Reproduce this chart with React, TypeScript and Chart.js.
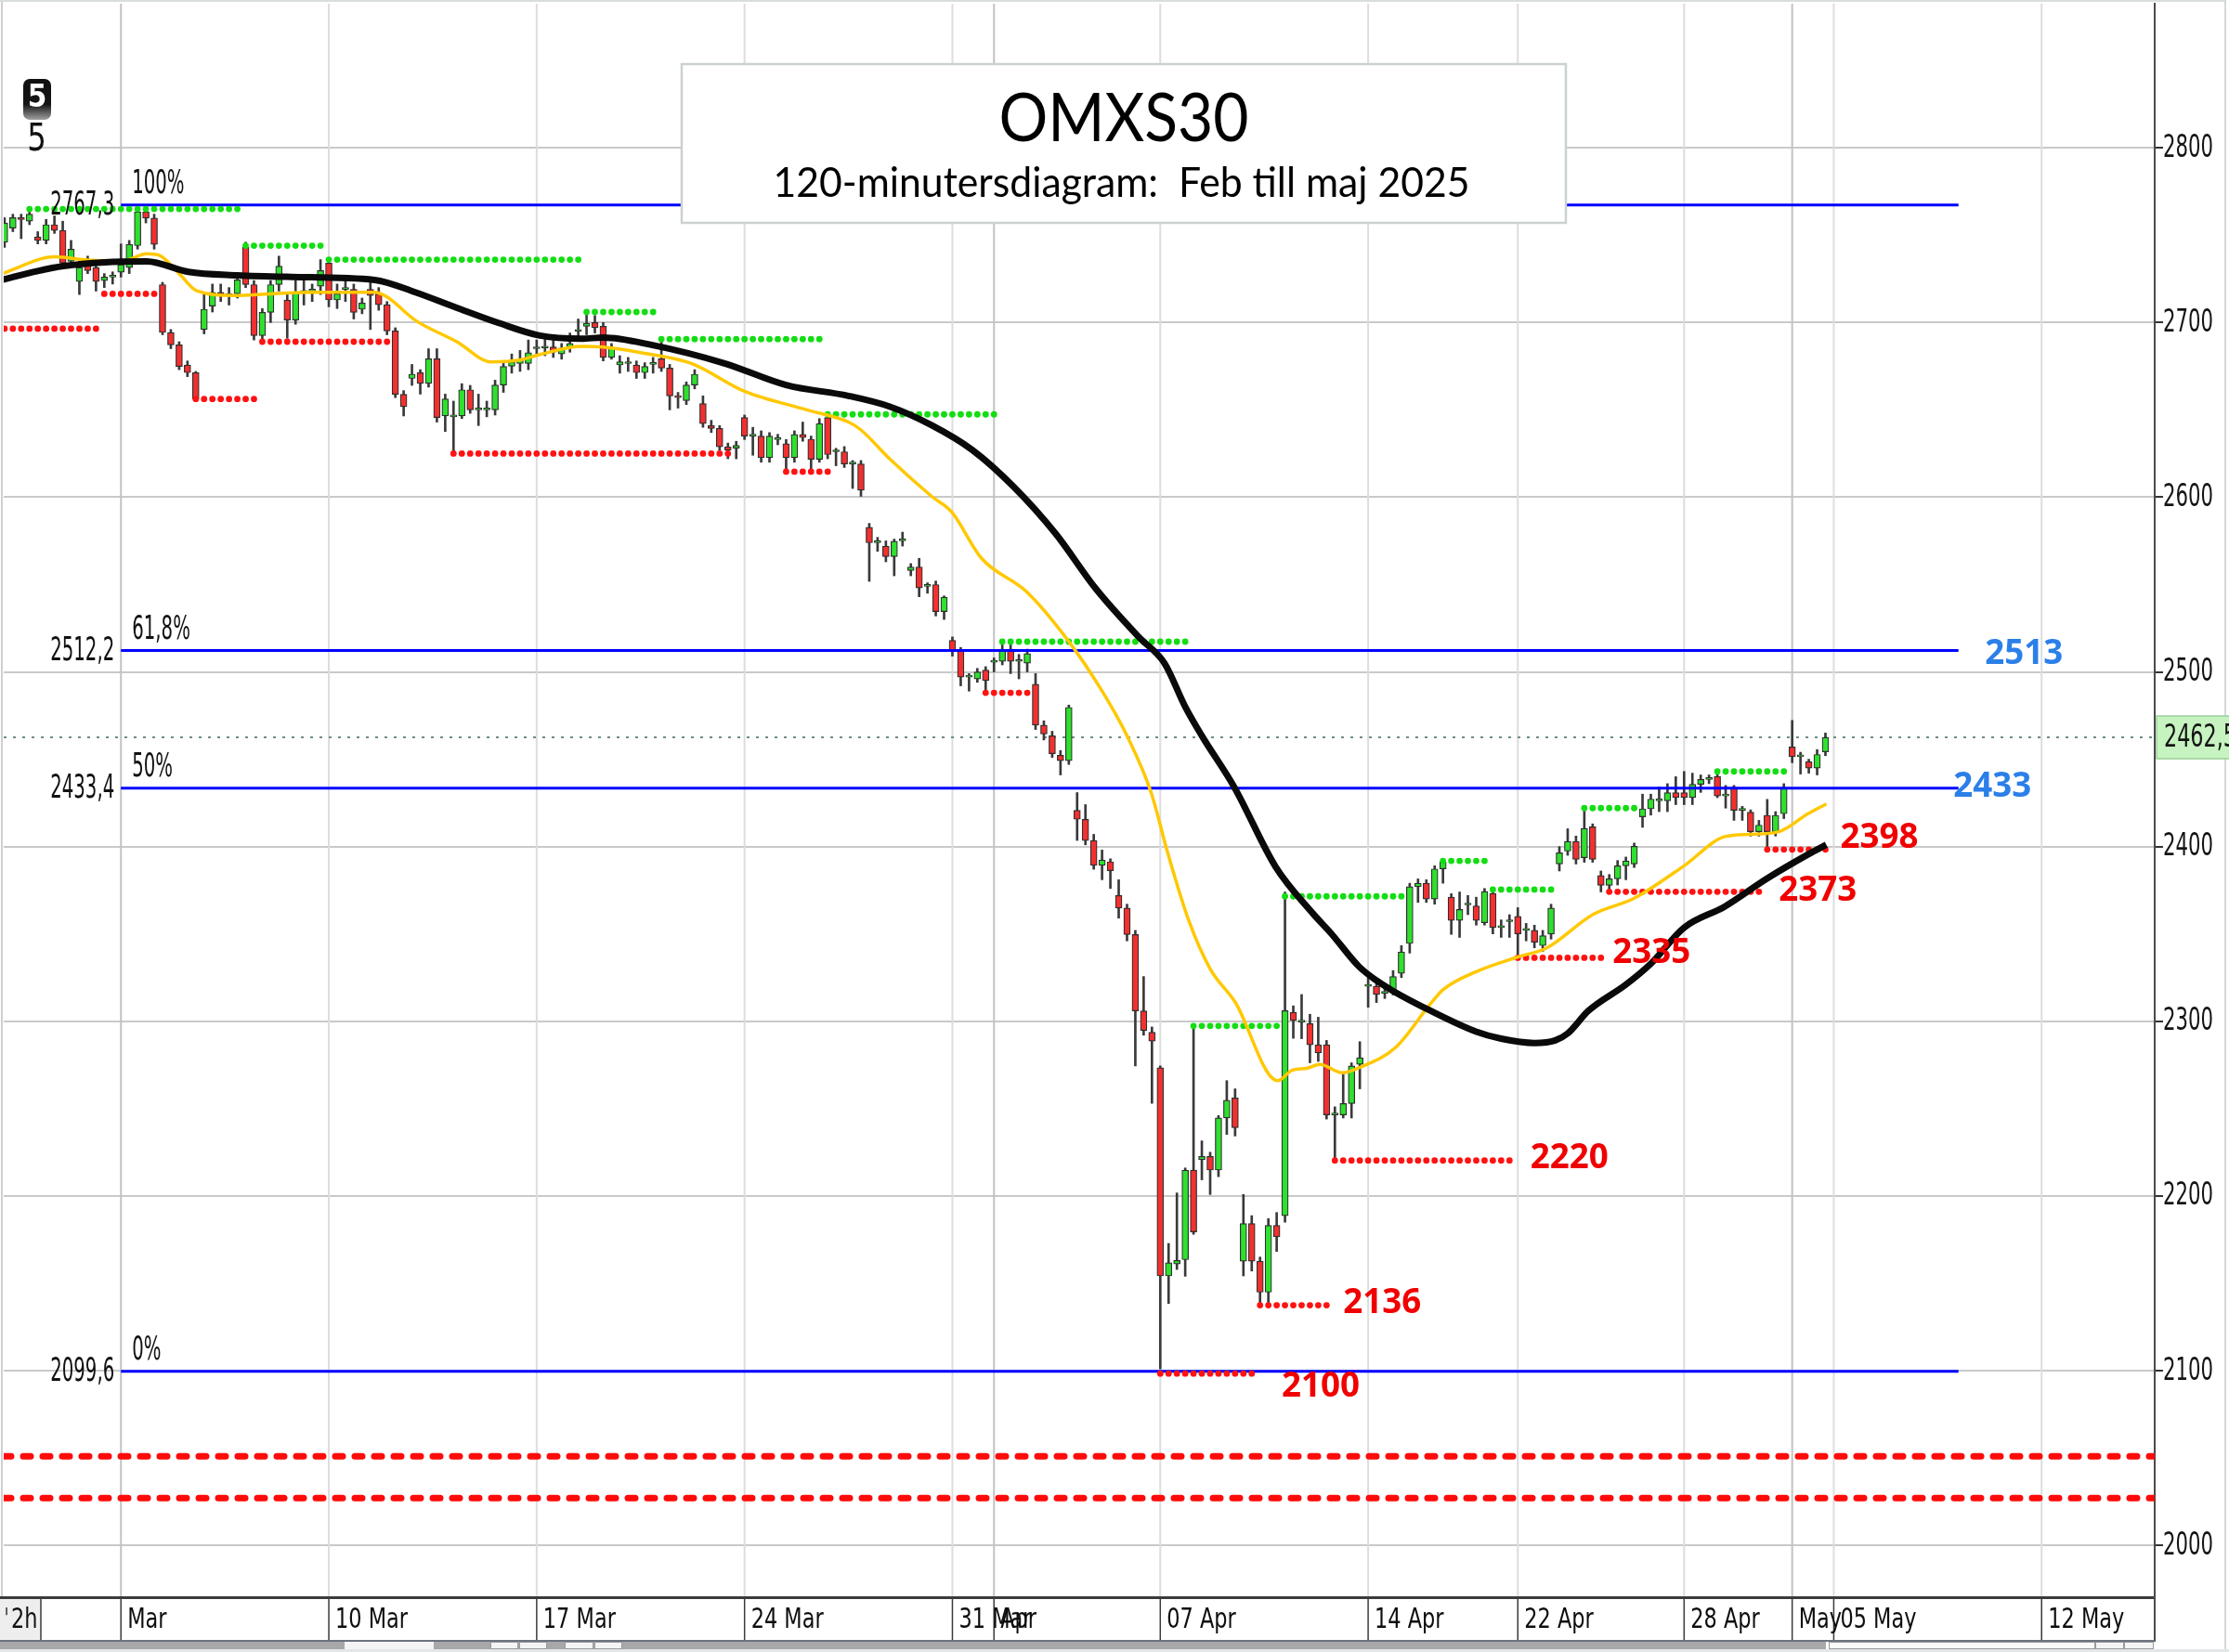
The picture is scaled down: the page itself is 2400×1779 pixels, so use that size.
import React, { useEffect, useRef } from "react";
import { Chart, registerables } from "chart.js";

Chart.register(...registerables);

// ---------------- DATA ----------------
// 120-minute bars, index 0 = first bar of 3 Mar 2025 (5 bars per full trading day)
const FIRST_BAR = -14;

const opens = [
  2746, 2754, 2760, 2758, 2749, 2747, 2756, 2752.7, 2735, 2723.5,
  2734, 2731.5, 2724, 2726, 2728.8, 2731.5, 2744, 2763.3, 2759.8, 2721.7,
  2694.3, 2687.2, 2675.7, 2671.3, 2696, 2709.4, 2717.3, 2715.5, 2716.4, 2743,
  2721.7, 2692.5, 2705.8, 2721.7, 2712.9, 2701.4, 2717.3, 2718, 2720.8, 2734,
  2712.9, 2719, 2719, 2707.6, 2719, 2716.4, 2710.2, 2695.2, 2658.9, 2668,
  2671.3, 2665.1, 2679.2, 2646.5, 2646, 2646.5, 2661.5, 2650, 2650, 2650,
  2664.2, 2675, 2676.5, 2676.6, 2685, 2685.4, 2686, 2682, 2686, 2695,
  2697.8, 2700, 2697.8, 2680, 2675.7, 2676.5, 2675.7, 2671.3, 2676, 2679.2,
  2673.9, 2658, 2655.3, 2664.2, 2653.6, 2641, 2639.4, 2628.8, 2628, 2645.6,
  2635, 2635, 2622.6, 2633, 2630.6, 2622.6, 2635.9, 2633.2, 2621.7, 2645.6,
  2626, 2626, 2619, 2619, 2582.8, 2574, 2572, 2566, 2575, 2558,
  2560, 2549, 2550, 2534.5, 2518, 2512.2, 2497, 2496, 2501, 2505.5,
  2506, 2513, 2506, 2505, 2492.9, 2469.5, 2463.4, 2452.2, 2449.2, 2420.7,
  2415.6, 2403.5, 2389.2, 2391.3, 2372, 2364.8, 2349.6, 2305.9, 2293.7, 2273.4,
  2154.2, 2161, 2163.5, 2214.8, 2220.7, 2222.6, 2214.8, 2244.6, 2256.1, 2162.6,
  2184.2, 2162.6, 2144.9, 2183.1, 2188.7, 2305.1, 2299.5, 2298.6, 2286.5, 2286.5,
  2246.4, 2246.4, 2252.9, 2275.3, 2320, 2320, 2316, 2317.2, 2327.4, 2344.5,
  2377, 2379, 2370, 2387.2, 2371, 2357.7, 2366.6, 2366, 2356.4, 2373.2,
  2353.6, 2357, 2360, 2352, 2352, 2343.3, 2349.9, 2390, 2397.4, 2402.9,
  2393.6, 2411.3, 2383.4, 2377.8, 2381.5, 2389, 2390, 2417, 2421.6, 2426.2,
  2426.2, 2430.9, 2430.9, 2428, 2435.6, 2438.4, 2440.2, 2429, 2433.7, 2420.7,
  2419.7, 2408.5, 2417.9, 2408.5, 2418.8, 2457, 2451.4, 2448.6, 2444.9, 2454.2,
];

const highs = [
  2760, 2762, 2762, 2766, 2752, 2759, 2761, 2758, 2747, 2735,
  2738, 2734, 2728, 2729, 2745, 2747, 2766, 2767.3, 2762, 2723,
  2696, 2689, 2678, 2672, 2717.3, 2722, 2722, 2720, 2728, 2746,
  2724, 2708, 2724, 2738, 2716, 2724, 2724, 2722, 2736, 2736,
  2722, 2726, 2722, 2714, 2726, 2720, 2712, 2697, 2661, 2676,
  2673, 2685, 2685, 2659, 2655, 2665, 2664, 2659, 2655, 2667,
  2678, 2682, 2684, 2690, 2690, 2692, 2690, 2688, 2694, 2702,
  2706, 2704, 2700, 2688, 2681, 2680, 2678, 2677, 2680, 2689,
  2676, 2660, 2666, 2673, 2658, 2644, 2641, 2631, 2632, 2647,
  2640, 2638, 2637, 2636, 2633, 2638, 2643, 2635, 2645, 2647,
  2628, 2629, 2621, 2621, 2585, 2577, 2575, 2576, 2580, 2562,
  2565, 2551, 2552, 2543.5, 2520, 2514, 2499, 2502, 2503, 2508,
  2517, 2516, 2510, 2513, 2499, 2472, 2466, 2455, 2481, 2430.9,
  2424, 2407, 2398, 2393, 2381, 2367, 2352, 2325.6, 2296.7, 2274.5,
  2172.8, 2201.7, 2216, 2297.3, 2231.5, 2225, 2246, 2266, 2261.3, 2200.8,
  2188.7, 2165, 2187, 2190.5, 2374, 2308.8, 2315.3, 2304, 2302.3, 2289,
  2251, 2270.6, 2276.2, 2288.3, 2324.7, 2322, 2319, 2329, 2343.3, 2379,
  2381.5, 2381, 2389, 2393, 2373, 2374, 2372, 2371, 2376, 2375,
  2358, 2361, 2365, 2356, 2355, 2352, 2367, 2400, 2410.2, 2406,
  2421.6, 2413, 2386, 2384, 2392, 2394, 2402, 2430, 2430, 2434,
  2436, 2440, 2443, 2442, 2441, 2441, 2442, 2435, 2435, 2423,
  2421, 2415, 2427, 2420, 2436, 2472.2, 2454, 2450, 2455.5, 2465,
];

const lows = [
  2743, 2752, 2748, 2756, 2745, 2745, 2751, 2733, 2732, 2716,
  2728, 2718, 2720, 2722, 2726, 2728, 2742, 2757, 2742, 2693,
  2685, 2673, 2669, 2655, 2693.5, 2706, 2712, 2710, 2714, 2720,
  2690, 2689, 2700, 2718, 2691, 2699, 2710, 2712, 2716, 2709,
  2708, 2712, 2702, 2705, 2696, 2707, 2693, 2657, 2646.5, 2664,
  2659, 2663, 2643, 2637.6, 2625, 2645, 2648, 2641, 2646, 2647,
  2660, 2671, 2672, 2673, 2681, 2681, 2680, 2679, 2683, 2690,
  2693, 2694, 2678, 2679, 2671, 2672, 2668, 2668, 2671, 2672,
  2650, 2651, 2653, 2662, 2640, 2637, 2627, 2622, 2622, 2633,
  2624, 2620, 2620, 2630, 2614, 2620, 2632, 2615, 2620, 2622,
  2618, 2617, 2605, 2600.5, 2551.8, 2569, 2563, 2555, 2572, 2555,
  2543, 2545, 2532, 2530, 2509, 2492, 2489, 2494, 2488, 2500,
  2504, 2499, 2496, 2500, 2467, 2461, 2451, 2441, 2447, 2403.5,
  2401, 2387, 2381, 2376, 2359, 2346, 2274.4, 2292, 2253, 2101,
  2138.4, 2157.9, 2154, 2178, 2209.2, 2200.8, 2211, 2235.2, 2234.3, 2154.2,
  2157, 2138, 2137.5, 2168.2, 2185, 2290.2, 2290, 2276.2, 2277, 2244,
  2220.3, 2244.6, 2244.6, 2261.3, 2308, 2310.7, 2313, 2315, 2325, 2339,
  2368, 2368, 2367, 2379, 2349.7, 2348, 2361, 2355, 2355, 2350,
  2348, 2348, 2336.8, 2346, 2342, 2340, 2347, 2386, 2395, 2390,
  2391, 2391, 2374, 2374, 2378, 2381, 2388, 2411, 2418, 2420,
  2420, 2424, 2424, 2424, 2431, 2436, 2428, 2422, 2415, 2415,
  2406, 2406, 2399, 2406, 2416, 2448, 2441.5, 2442, 2441, 2452,
];

const closes = [
  2757, 2760, 2759, 2762, 2747, 2756, 2752.7, 2734, 2742, 2731.5,
  2729.7, 2723.5, 2726, 2726.5, 2733.2, 2744.7, 2763.3, 2759.8, 2744.7, 2694.3,
  2687.2, 2674.8, 2671.3, 2656.2, 2707.6, 2717.3, 2715.5, 2716, 2724.4, 2721.7,
  2692.5, 2705.8, 2721.7, 2732.3, 2701.4, 2717.3, 2718.2, 2718.4, 2729.7, 2712.9,
  2716.4, 2719.4, 2705.8, 2711.1, 2715.5, 2710.2, 2695.2, 2658.9, 2651.8, 2670.4,
  2665.1, 2679.2, 2645.6, 2656.2, 2646.5, 2661.5, 2650, 2650.4, 2651, 2664.2,
  2674.8, 2677.5, 2678.5, 2682.7, 2685.4, 2686, 2683, 2685.4, 2688, 2696,
  2699.6, 2697, 2680, 2685.4, 2677.5, 2676.8, 2671.3, 2674.8, 2676.6, 2673.9,
  2658, 2657, 2664.2, 2670.4, 2642.1, 2639.4, 2628.8, 2627, 2629.7, 2635,
  2635.5, 2622.6, 2635, 2633.5, 2622.6, 2635.9, 2634.1, 2621.7, 2642.1, 2624.4,
  2626.5, 2619, 2619.5, 2604, 2573.9, 2574.5, 2566, 2574.8, 2575.4, 2560,
  2548, 2549.3, 2534.5, 2542.7, 2512.2, 2497, 2497.3, 2500, 2495, 2506,
  2513, 2506, 2506.4, 2510.5, 2469.5, 2464.4, 2453.2, 2449.2, 2479.7, 2415.6,
  2403.5, 2389.2, 2392.3, 2386.2, 2364.8, 2349.6, 2305.9, 2294.7, 2288.6, 2154.2,
  2161.7, 2163, 2214.8, 2179.4, 2222.6, 2214.8, 2244.6, 2254.8, 2239, 2184.2,
  2162.6, 2144.9, 2183.1, 2176.6, 2306, 2300.4, 2299.8, 2286.5, 2281.8, 2246.4,
  2246.8, 2252.9, 2274.4, 2279.1, 2320.4, 2315.3, 2316.5, 2325.6, 2339.6, 2377,
  2379, 2370, 2387.2, 2391.3, 2357.7, 2364, 2366.9, 2357.7, 2374.2, 2353.6,
  2354, 2357.3, 2350, 2352.3, 2345.2, 2349, 2364.8, 2396.4, 2402.9, 2392.7,
  2410.4, 2392.7, 2377.8, 2381.5, 2389, 2391.8, 2400.2, 2421.6, 2427.2, 2426.6,
  2430.9, 2428.1, 2428, 2435.6, 2438.4, 2438.8, 2429, 2429.3, 2420.7, 2421,
  2408.5, 2412.3, 2408.5, 2417.9, 2433.7, 2451.4, 2451.6, 2444.9, 2452.7, 2462.5,
];

// Long moving average (black): bar index / value
const blackMaX = [-14.35, -10, -6.9, -2, 3.1, 8.1, 14, 20.5, 30.5, 35.4, 40.4, 45.5, 50.4, 55.4, 58, 63.8, 72.6, 80, 87.5, 92.5, 97.5, 102.4, 107.4, 112.4, 117.3, 122.4, 125.5, 128, 130, 133.9, 138.9, 143.3, 145.6, 148.9, 151.1, 153, 157.5, 163, 166, 170, 172.5, 174, 176.5, 181, 184, 188, 192.9, 197.9, 202.9, 205.1];
const blackMaY = [2724.4, 2729.5, 2732.3, 2734.5, 2735, 2729, 2727, 2726.1, 2724.4, 2717.3, 2708.4, 2699.6, 2692.5, 2690.7, 2691.4, 2687.2, 2676.6, 2664.2, 2658, 2651.8, 2641.2, 2627, 2605.8, 2579.2, 2547.3, 2520, 2505, 2480, 2463.4, 2434, 2388.2, 2362, 2350, 2331.3, 2323, 2317.3, 2306, 2294, 2290, 2287.5, 2289, 2293, 2306, 2321, 2333, 2353.6, 2365.7, 2381.5, 2395.5, 2401.1];

// Short moving average (yellow)
const yellowMaX = [-14.35, -7.9, -4.4, 0.1, 3.1, 4.6, 7, 9.1, 13.6, 18, 23.5, 30.5, 32, 35.4, 40.4, 44.5, 47.9, 50.4, 55.4, 58, 62.5, 68.6, 75, 82.5, 87.5, 89, 92.5, 97.5, 99.9, 103.5, 108.9, 113.9, 118, 121, 123.9, 125.9, 128.4, 131, 134, 139.1, 140.9, 142.6, 144.2, 146.9, 148.9, 153.3, 157.5, 159, 163, 168, 171.5, 177, 182, 188, 192.9, 195.9, 199.4, 202.9, 205.1];
const yellowMaY = [2727.9, 2737.6, 2735.9, 2735, 2739.4, 2738.5, 2728, 2718.2, 2715.5, 2716.4, 2717.3, 2717.3, 2714.6, 2701.3, 2689, 2677.5, 2678.5, 2681.7, 2686.3, 2686, 2682.8, 2676.6, 2660.6, 2650, 2643, 2638.5, 2621.7, 2600.5, 2591.6, 2565, 2546, 2518, 2489, 2463.4, 2430.9, 2396.3, 2358, 2330, 2311, 2266, 2272, 2273, 2275.3, 2270.5, 2273.4, 2285, 2310, 2318, 2328.4, 2336.8, 2342, 2361, 2370.4, 2389, 2405.7, 2407, 2408.5, 2418.8, 2424.4];

// Resistance (green dotted) and support (red dotted) levels
const greenLevels = [2765, 2744, 2736, 2706, 2690.5, 2647.4, 2517.3, 2297.3, 2371.5, 2391.8, 2375.4, 2422, 2443];
const greenFrom = [-11, 15, 25, 56, 65, 85, 106, 129, 140, 159, 165, 176, 192];
const greenTo = [14, 24, 55, 64, 84, 105, 128, 139, 154, 164, 172, 182, 200];

const redLevels = [2696.5, 2716.4, 2656.2, 2689, 2625, 2614.6, 2488, 2098.3, 2137.4, 2220.3, 2336.3, 2374.1, 2398.3];
const redFrom = [-14, -2, 9, 17, 40, 80, 104, 125, 137, 146, 168, 179, 198];
const redTo = [-3, 4, 16, 32, 73, 85, 109, 136, 145, 167, 178, 197, 205];

// Fibonacci retracement
const fibLevels = [2767.3, 2512.2, 2433.4, 2099.6];
const fibValueLabels = ["2767,3", "2512,2", "2433,4", "2099,6"];
const fibPctLabels = ["100%", "61,8%", "50%", "0%"];
const FIB_FROM = 0;
const FIB_TO = 221;

// Red dashed lines and last price
const dashedLevels = [2051, 2027];
const lastPrice = 2462.5;
const lastPriceLabel = "2462,5";

// Annotated numbers
const annoTexts = ["2513", "2433", "2398", "2373", "2335", "2220", "2136", "2100"];
const annoX = [224.2, 220.4, 206.8, 199.4, 179.4, 169.5, 147, 139.6];
const annoY = [2510.3, 2434.4, 2405.2, 2374.9, 2339.3, 2221.4, 2138.6, 2090.8];
const annoBlue = [true, true, false, false, false, false, false, false];

// X axis ticks (bar index of the labelled day)
const tickIdx = [0, 25, 50, 75, 100, 105, 125, 150, 168, 188, 201, 206, 231];
const tickLabels = ["Mar", "10 Mar", "17 Mar", "24 Mar", "31 Mar", "Apr", "07 Apr", "14 Apr", "22 Apr", "28 Apr", "May", "05 May", "12 May"];
const monthTick = [true, false, false, false, false, true, false, false, false, false, true, false, false];

const X_MIN = -14.1;
const X_MAX = 244.6;
const Y_MIN = 1970.8;
const Y_MAX = 2882.5;

// ---------------- STYLE ----------------
const NARROW = '"Liberation Sans Narrow", "Arial Narrow", "DejaVu Sans Condensed", sans-serif';
const GREEN = "#2fe02f";
const RED = "#f23030";

function drawScaled(ctx: any, text: string, x: number, y: number, sx: number, align: string) {
  ctx.save();
  ctx.translate(x, y);
  ctx.scale(sx, 1);
  ctx.textAlign = align;
  ctx.fillText(text, 0, 0);
  ctx.restore();
}

function scaleFor(ctx: any, ref: string, target: number) {
  const w = ctx.measureText(ref).width;
  return w > 0 ? target / w : 1;
}

const overlay = {
  id: "overlay",
  beforeDatasetsDraw(chart: any) {
    const { ctx, chartArea: ca } = chart;
    const xs = chart.scales.x;
    ctx.save();
    tickIdx.forEach((t, k) => {
      const px = xs.getPixelForValue(t);
      ctx.strokeStyle = monthTick[k] ? "#c3c3c3" : "#dddddd";
      ctx.lineWidth = 2;
      ctx.beginPath();
      ctx.moveTo(px, ca.top);
      ctx.lineTo(px, ca.bottom);
      ctx.stroke();
    });
    ctx.strokeStyle = "#cfcfcf";
    ctx.lineWidth = 2;
    ctx.beginPath();
    ctx.moveTo(2, 0);
    ctx.lineTo(2, ca.bottom);
    ctx.stroke();
    ctx.restore();
  },
  afterDatasetsDraw(chart: any) {
    const { ctx, chartArea: ca } = chart;
    const xs = chart.scales.x;
    const ys = chart.scales.y;
    const px = (v: number) => xs.getPixelForValue(v);
    const py = (v: number) => ys.getPixelForValue(v);
    ctx.save();

    // top border
    ctx.fillStyle = "#d9dddd";
    ctx.fillRect(0, 0, 2397, 2);

    // Title box
    ctx.fillStyle = "#ffffff";
    ctx.fillRect(734, 69, 952, 171);
    ctx.strokeStyle = "#cbd1d1";
    ctx.lineWidth = 2.5;
    ctx.strokeRect(734, 69, 952, 171);
    ctx.fillStyle = "#000000";
    ctx.textBaseline = "alphabetic";
    ctx.font = '72px Lato, "Open Sans", sans-serif';
    drawScaled(ctx, "OMXS30", 1210, 152, scaleFor(ctx, "OMXS30", 269), "center");
    ctx.font = '44px Lato, "Open Sans", sans-serif';
    const sub = "120-minutersdiagram:  Feb till maj 2025";
    drawScaled(ctx, sub, 1207.5, 212, scaleFor(ctx, sub, 750), "center");

    // Fibonacci labels
    ctx.font = `35px ${NARROW}`;
    ctx.fillStyle = "#111111";
    ctx.textBaseline = "middle";
    const sxFib = scaleFor(ctx, "2512,2", 69);
    fibLevels.forEach((lv, k) => {
      const yy = py(lv);
      drawScaled(ctx, fibValueLabels[k], px(FIB_FROM) - 7, yy + 1, sxFib, "right");
      drawScaled(ctx, fibPctLabels[k], px(FIB_FROM) + 12, yy - 22, sxFib, "left");
    });

    // Annotated numbers
    ctx.font = 'bold 38px "Open Sans", "Noto Sans", sans-serif';
    const sxAnno = scaleFor(ctx, "2136", 84);
    annoTexts.forEach((t, k) => {
      ctx.fillStyle = annoBlue[k] ? "#2b7fe8" : "#f00000";
      drawScaled(ctx, t, px(annoX[k]), py(annoY[k]), sxAnno, "left");
    });

    // "5" badge
    const g = ctx.createLinearGradient(0, 85, 0, 129);
    g.addColorStop(0, "#111111");
    g.addColorStop(0.62, "#151515");
    g.addColorStop(1, "#a0a0a0");
    ctx.fillStyle = g;
    ctx.beginPath();
    ctx.roundRect(25, 85, 30, 44, 7);
    ctx.fill();
    ctx.fillStyle = "#ffffff";
    ctx.font = `bold 33px ${NARROW}`;
    ctx.textBaseline = "middle";
    drawScaled(ctx, "5", 40, 106, 1, "center");
    ctx.fillStyle = "#111111";
    ctx.font = `40px ${NARROW}`;
    drawScaled(ctx, "5", 39.5, 152, 0.9, "center");

    // Right border and y-axis labels
    ctx.fillStyle = "#d3d9d9";
    ctx.fillRect(2395, 0, 2, 1779);
    ctx.font = `33px ${NARROW}`;
    ctx.fillStyle = "#141414";
    ctx.textBaseline = "middle";
    const sxAx = scaleFor(ctx, "2500", 54);
    ys.ticks.forEach((t: any) => {
      drawScaled(ctx, String(t.value), ca.right + 9, py(t.value) + 1, sxAx, "left");
    });
    // last price box
    const lpY = py(lastPrice);
    ctx.fillStyle = "#c6f3bf";
    ctx.fillRect(ca.right + 2, lpY - 23, 80, 46);
    ctx.strokeStyle = "#9ccf98";
    ctx.lineWidth = 1.5;
    ctx.strokeRect(ca.right + 2, lpY - 23, 80, 46);
    ctx.fillStyle = "#141414";
    drawScaled(ctx, lastPriceLabel, ca.right + 10, lpY + 1, sxAx * 1.05, "left");

    // X band
    const b = ca.bottom;
    ctx.fillStyle = "#ffffff";
    ctx.fillRect(0, b, ca.right, 47);
    ctx.fillStyle = "#eeeeee";
    ctx.fillRect(0, b + 3, 44, 44);
    ctx.fillStyle = "#3b3b3b";
    ctx.fillRect(0, b, ca.right + 1, 3);
    ctx.strokeStyle = "#3b3b3b";
    ctx.lineWidth = 1.5;
    const seps = [44, ...tickIdx.map((t) => px(t))];
    seps.forEach((sx) => {
      ctx.beginPath();
      ctx.moveTo(sx, b + 3);
      ctx.lineTo(sx, b + 47);
      ctx.stroke();
    });
    ctx.strokeStyle = "#4a4a4a";
    ctx.lineWidth = 2;
    ctx.beginPath();
    ctx.moveTo(ca.right, b);
    ctx.lineTo(ca.right, b + 49);
    ctx.stroke();
    ctx.font = `30px ${NARROW}`;
    ctx.fillStyle = "#0e0e0e";
    ctx.textBaseline = "alphabetic";
    const sxDate = scaleFor(ctx, "10 Mar", 78);
    tickLabels.forEach((lab, k) => {
      drawScaled(ctx, lab, px(tickIdx[k]) + 7, b + 34, sxDate, "left");
    });
    ctx.fillStyle = "#555555";
    drawScaled(ctx, "'", 4, b + 34, sxDate, "left");
    ctx.fillStyle = "#111111";
    drawScaled(ctx, "2h", 12, b + 34, sxDate, "left");

    // scrollbar strip
    ctx.fillStyle = "#6b7380";
    ctx.fillRect(0, b + 47, ca.right, 2);
    ctx.fillStyle = "#a8a8a8";
    ctx.fillRect(0, b + 49, 1966, 8);
    ctx.fillStyle = "#f4f4f4";
    ctx.fillRect(371, b + 49, 96, 8);
    ctx.strokeStyle = "#9a9a9a";
    ctx.lineWidth = 1;
    [[528, 30], [559, 30], [608, 31], [640, 30]].forEach(([x0, w]) => {
      ctx.fillStyle = "#f4f4f4";
      ctx.fillRect(x0, b + 49, w, 8);
      ctx.strokeRect(x0 + 0.5, b + 49.5, w - 1, 7);
    });
    ctx.fillStyle = "#fbfbfb";
    ctx.fillRect(1969, b + 49, 287, 8);
    ctx.strokeRect(1969.5, b + 49.5, 286, 7);
    [[2256, 31], [2287, 32]].forEach(([x0, w]) => {
      ctx.fillStyle = "#f4f4f4";
      ctx.fillRect(x0, b + 49, w, 8);
      ctx.strokeRect(x0 + 0.5, b + 49.5, w - 1, 7);
    });
    ctx.fillStyle = "#e2e7e7";
    ctx.fillRect(0, 1776, 2400, 3);

    ctx.restore();
  },
};

export default function App() {
  const ref = useRef<HTMLCanvasElement>(null);

  useEffect(() => {
    const canvas = ref.current;
    if (!canvas) return;

    const idx = opens.map((_, k) => FIRST_BAR + k);
    const wickData = idx.map((i, k) => ({ x: i, y: [lows[k], highs[k]] }));
    const bodyData = idx.map((i, k) => ({ x: i, y: [opens[k], closes[k]] }));
    const bodyColors = idx.map((_, k) => (closes[k] >= opens[k] ? GREEN : RED));

    const datasets: any[] = [];

    // dashed red lines
    dashedLevels.forEach((lv) => {
      datasets.push({
        type: "line",
        data: [{ x: X_MIN, y: lv }, { x: X_MAX, y: lv }],
        borderColor: "#ff0a0a",
        borderWidth: 7,
        borderDash: [8, 13],
        borderCapStyle: "round",
        pointRadius: 0,
        order: 30,
      });
    });

    // last price dotted line
    datasets.push({
      type: "line",
      data: [{ x: X_MIN, y: lastPrice }, { x: X_MAX, y: lastPrice }],
      borderColor: "#6b8f7e",
      borderWidth: 2,
      borderDash: [3, 7],
      pointRadius: 0,
      order: 29,
    });

    // wicks
    datasets.push({
      type: "bar",
      data: wickData,
      backgroundColor: "#3a3a3a",
      barThickness: 2,
      grouped: false,
      order: 25,
    });
    // bodies
    datasets.push({
      type: "bar",
      data: bodyData,
      backgroundColor: bodyColors,
      borderColor: "#2e2e2e",
      borderWidth: 1.2,
      borderSkipped: false,
      barThickness: 7,
      minBarLength: 2,
      grouped: false,
      order: 24,
    });

    // Fibonacci lines
    fibLevels.forEach((lv) => {
      datasets.push({
        type: "line",
        data: [{ x: FIB_FROM, y: lv }, { x: FIB_TO, y: lv }],
        borderColor: "#0000ff",
        borderWidth: 3,
        pointRadius: 0,
        order: 20,
      });
    });

    const dotted = (levels: number[], from: number[], to: number[], color: string) => {
      levels.forEach((lv, k) => {
        const pts = [];
        for (let i = from[k]; i <= to[k]; i++) pts.push({ x: i, y: lv });
        datasets.push({
          type: "line",
          data: pts,
          showLine: false,
          pointRadius: 3.4,
          pointStyle: "circle",
          pointBackgroundColor: color,
          pointBorderWidth: 0,
          order: 15,
        });
      });
    };
    dotted(greenLevels, greenFrom, greenTo, "#13dd13");
    dotted(redLevels, redFrom, redTo, "#ff1212");

    // moving averages
    datasets.push({
      type: "line",
      data: yellowMaX.map((x, k) => ({ x, y: yellowMaY[k] })),
      borderColor: "#ffc800",
      borderWidth: 3.5,
      pointRadius: 0,
      cubicInterpolationMode: "monotone",
      order: 6,
    });
    datasets.push({
      type: "line",
      data: blackMaX.map((x, k) => ({ x, y: blackMaY[k] })),
      borderColor: "#0a0a0a",
      borderWidth: 7,
      pointRadius: 0,
      cubicInterpolationMode: "monotone",
      order: 5,
    });

    const chart = new Chart(canvas, {
      type: "bar",
      data: { datasets },
      options: {
        responsive: false,
        maintainAspectRatio: false,
        animation: false,
        events: [],
        layout: { padding: { left: 2, top: 2, right: 0, bottom: 60 } },
        plugins: {
          legend: { display: false },
          tooltip: { enabled: false },
          title: { display: false },
        },
        scales: {
          x: {
            type: "linear",
            min: X_MIN,
            max: X_MAX,
            display: false,
            offset: false,
          },
          y: {
            type: "linear",
            position: "right",
            min: Y_MIN,
            max: Y_MAX,
            ticks: { stepSize: 100, includeBounds: false, display: false },
            grid: {
              color: "#c9c9c9",
              lineWidth: 2,
              drawTicks: true,
              tickLength: 9,
              tickColor: "#333333",
              tickWidth: 2,
            },
            border: { display: true, color: "#4a4a4a", width: 2 },
            afterFit: (s: any) => {
              s.width = 80;
            },
          },
        },
      } as any,
      plugins: [overlay],
    } as any);

    return () => chart.destroy();
  }, []);

  return (
    <div style={{ position: "absolute", left: 0, top: 0, width: 2400, height: 1779, background: "#ffffff" }}>
      <canvas ref={ref} width={2400} height={1779} style={{ display: "block", width: 2400, height: 1779 }} />
    </div>
  );
}
